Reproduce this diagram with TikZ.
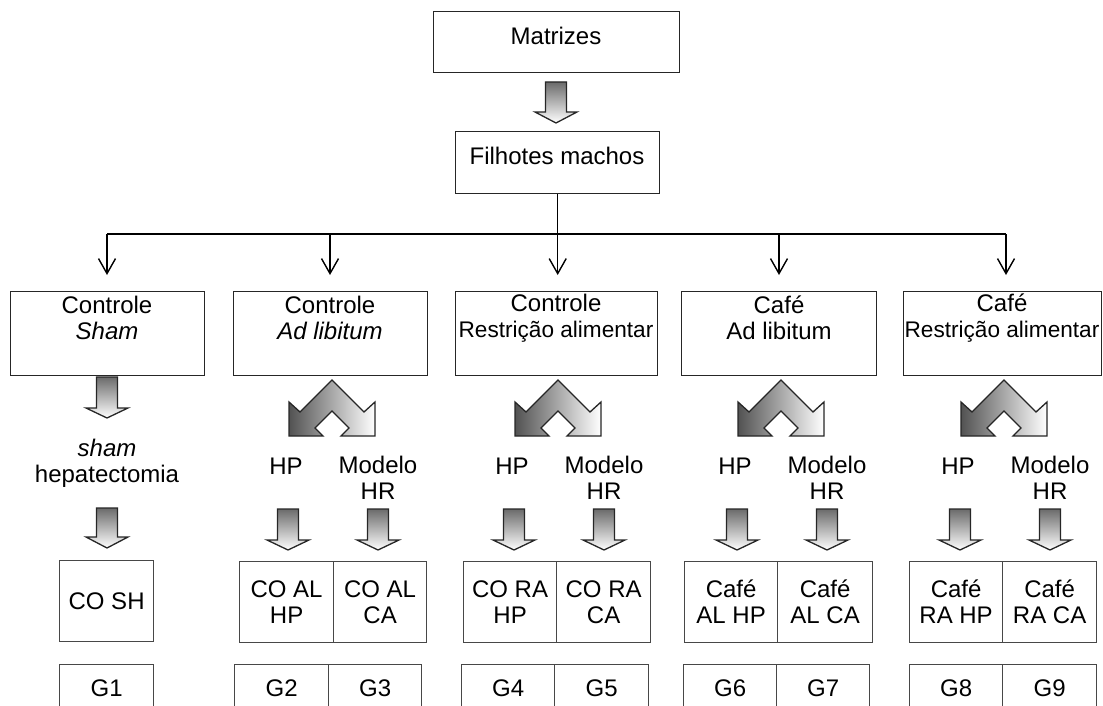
\documentclass[tikz,border=0pt]{standalone}
\usepackage{fontspec}
\setmainfont{Liberation Sans}
\usetikzlibrary{arrows.meta}

\tikzset{
  box/.style={draw=black!85, line width=1.4pt, inner sep=0pt, anchor=north west},
  cell/.style={draw=black!72, line width=1.2pt, inner sep=0pt, anchor=north west,
               align=center, font=\fontsize{24}{26}\selectfont},
  txt/.style={inner sep=0pt, align=center, font=\fontsize{24}{26}\selectfont},
  conn/.style={line width=1.4pt, shorten >=16pt,
               -{Straight Barb[length=15pt,width=17pt,line width=1.4pt]}},
  trunk/.style={line width=1.4pt},
  blk/.style={draw=black!85, line width=1.3pt, line join=miter,
              top color=black!58, bottom color=white},
  vblk/.style={draw=black!85, line width=1.3pt, line join=miter,
               left color=black!68, right color=white},
}

% narrower setting for the long two-word label
\newcommand\longlbl{\fontsize{22.6}{26}\selectfont Restrição alimentar}

% straight block arrow pointing down: x, top, head base, tip
\newcommand\downblk[4]{%
  \shadedraw[blk] (#1-10.5,#2) -- (#1+10.5,#2) -- (#1+10.5,#3) -- (#1+21,#3)
    -- (#1,#4) -- (#1-21,#3) -- (#1-10.5,#3) -- cycle;}

% forked block arrow (inverted V with two heads): peak x, peak y
\newcommand\forkblk[2]{%
  \shadedraw[vblk] (#1,#2) -- (#1-32,#2+32) -- (#1-43,#2+22) -- (#1-43,#2+56)
    -- (#1-9,#2+56) -- (#1-17,#2+48) -- (#1,#2+31) -- (#1+17,#2+48)
    -- (#1+9,#2+56) -- (#1+43,#2+56) -- (#1+43,#2+22) -- (#1+32,#2+32) -- cycle;}

\begin{document}
\begin{tikzpicture}[x=1pt, y=-1pt]
\useasboundingbox (0,0) rectangle (1103,706);
\clip (0,0) rectangle (1103,706);

% top of the tree
\node[box, minimum width=246pt, minimum height=61pt] (mat) at (433,11) {};
\node[txt] (matT) at (556,36) {Matrizes};
\downblk{556}{82}{112}{123}
\node[box, minimum width=204pt, minimum height=62pt] (fil) at (455,131) {};
\node[txt] (filT) at (557,156) {Filhotes machos};

% five groups
\node[box, minimum width=194pt, minimum height=84pt] (b1) at (10,291) {};
\node[box, minimum width=194pt, minimum height=84pt] (b2) at (233,291) {};
\node[box, minimum width=202pt, minimum height=84pt] (b3) at (455,291) {};
\node[box, minimum width=195pt, minimum height=84pt] (b4) at (681,291) {};
\node[box, minimum width=198pt, minimum height=84pt] (b5) at (903,291) {};
\node[txt] (b1T) at (107,318) {Controle\\\itshape Sham};
\node[txt] (b2T) at (330,318) {Controle\\\itshape Ad libitum};
\node[txt] (b3T) at (556,318) {Controle\\\longlbl};
\node[txt] (b4T) at (779,318) {Café\\Ad libitum};
\node[txt] (b5T) at (1002,318) {Café\\\longlbl};

% thin connectors from the litter to the groups
\coordinate (s1) at (107,234);
\coordinate (s2) at (330,234);
\coordinate (s3) at (556,234);
\coordinate (s4) at (779,234);
\coordinate (s5) at (1006,234);
\draw[trunk] (s1) -- (s5);
\draw[conn] (fil.south) -- (fil.south |- b3.north);
\draw[conn] (s1) -- (s1 |- b1.north);
\draw[conn] (s2) -- (s2 |- b2.north);
\draw[conn] (s4) -- (s4 |- b4.north);
\draw[conn] (s5) -- (s5 |- b5.north);

% sham branch
\downblk{107}{377}{408}{418}
\node[txt] (shT) at (107,463) {\itshape sham\\hepatectomia};
\downblk{107}{508}{537}{548}
\node[cell, minimum width=94pt, minimum height=81pt] (cosh) at (59,560) {CO SH};
\node[cell, minimum width=94pt, minimum height=48pt] (g1) at (59,664) {G1};

% forks into HP and HR model
\foreach \c in {330,556,779,1002}{
  \forkblk{\c+2}{380}
  \node[txt] (hp\c) at (\c-44,466) {HP};
  \node[txt] (hr\c) at (\c+48,478) {Modelo\\HR};
  \downblk{\c-42}{509}{540}{550}
  \downblk{\c+48}{509}{540}{550}
}

% experimental groups
\node[cell, minimum width=94pt, minimum height=81pt] (c2a) at (239,561) {CO AL\\HP};
\node[cell, minimum width=93pt, minimum height=81pt] (c2b) at (333,561) {CO AL\\CA};
\node[cell, minimum width=93pt, minimum height=81pt] (c3a) at (463,561) {CO RA\\HP};
\node[cell, minimum width=94pt, minimum height=81pt] (c3b) at (556,561) {CO RA\\CA};
\node[cell, minimum width=93pt, minimum height=81pt] (c4a) at (684,561) {Café\\AL HP};
\node[cell, minimum width=95pt, minimum height=81pt] (c4b) at (777,561) {Café\\AL CA};
\node[cell, minimum width=93pt, minimum height=81pt] (c5a) at (909,561) {Café\\RA HP};
\node[cell, minimum width=94pt, minimum height=81pt] (c5b) at (1002,561) {Café\\RA CA};

% group numbers
\node[cell, minimum width=94pt, minimum height=48pt] (g2) at (234,664) {G2};
\node[cell, minimum width=93pt, minimum height=48pt] (g3) at (328,664) {G3};
\node[cell, minimum width=93pt, minimum height=48pt] (g4) at (461,664) {G4};
\node[cell, minimum width=94pt, minimum height=48pt] (g5) at (554,664) {G5};
\node[cell, minimum width=93pt, minimum height=48pt] (g6) at (683,664) {G6};
\node[cell, minimum width=93pt, minimum height=48pt] (g7) at (776,664) {G7};
\node[cell, minimum width=93pt, minimum height=48pt] (g8) at (909,664) {G8};
\node[cell, minimum width=94pt, minimum height=48pt] (g9) at (1002,664) {G9};
\end{tikzpicture}
\end{document}
